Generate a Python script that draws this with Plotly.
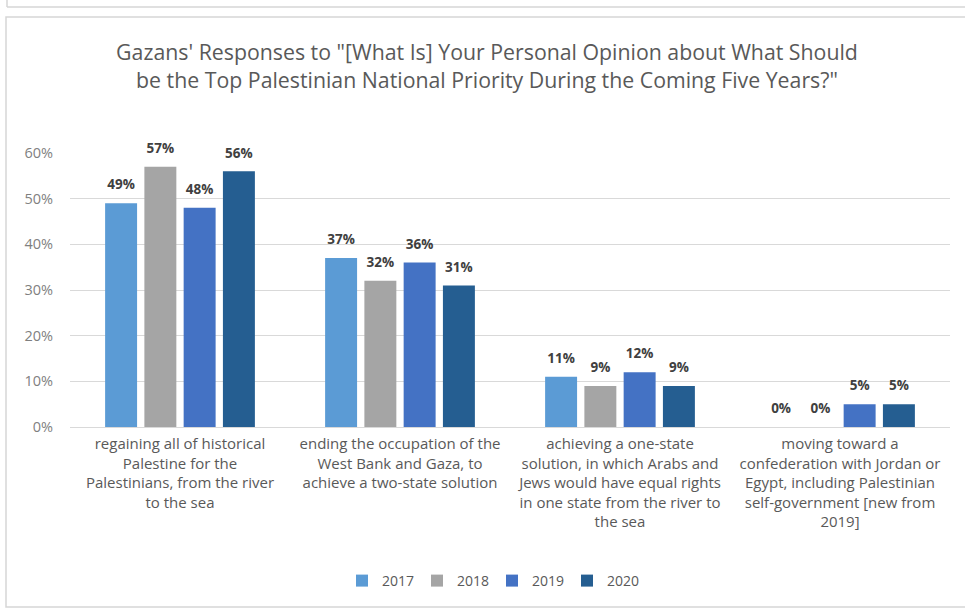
import plotly.graph_objects as go

categories = [
    "regaining all of historical<br>Palestine for the<br>Palestinians, from the river<br>to the sea",
    "ending the occupation of the<br>West Bank and Gaza, to<br>achieve a two-state solution",
    "achieving a one-state<br>solution, in which Arabs and<br>Jews would have equal rights<br>in one state from the river to<br>the sea",
    "moving toward a<br>confederation with Jordan or<br>Egypt, including Palestinian<br>self-government [new from<br>2019]",
]
series_names = ["2017", "2018", "2019", "2020"]
values_2017 = [49, 37, 11, 0]
values_2018 = [57, 32, 9, 0]
values_2019 = [48, 36, 12, 5]
values_2020 = [56, 31, 9, 5]
series_values = [values_2017, values_2018, values_2019, values_2020]
colors = ["#5B9BD5", "#A5A5A5", "#4472C4", "#255E91"]
y_ticks = [0, 10, 20, 30, 40, 50, 60]
y_tick_text = [f"{t}%" for t in y_ticks]

title_text = ("Gazans' Responses to \"[What Is] Your Personal Opinion about What Should<br>"
              "be the Top Palestinian National Priority During the Coming Five Years?\"")

FONT = "Open Sans"
BARGAP = 0.286

fig = go.Figure()
for name, vals, col in zip(series_names, series_values, colors):
    fig.add_trace(go.Bar(
        name=name, x=categories, y=vals,
        marker=dict(color=col, line=dict(width=0)),
        offsetgroup=name, hoverinfo="skip",
    ))
# data labels, grouped like the bars
for name, vals in zip(series_names, series_values):
    fig.add_trace(go.Scatter(
        x=categories, y=vals, mode="markers+text",
        text=[f"<b>{v}%</b>" for v in vals], textposition="top center",
        textfont=dict(family=FONT, size=13.5, color="#404040"),
        marker=dict(size=15, color="rgba(0,0,0,0)"),
        offsetgroup=name, showlegend=False, cliponaxis=False, hoverinfo="skip",
    ))

# paper coordinate helpers (plot area: x 70..950 px, y 153..427 px)
def px_x(p):
    return (p - 70) / 880.0

def px_y(p):
    return (427 - p) / 274.0

shapes = [
    dict(type="rect", xref="paper", yref="paper",
         x0=px_x(6), x1=px_x(980), y0=px_y(607), y1=px_y(17),
         line=dict(color="#D6D6D6", width=1.5), fillcolor="rgba(0,0,0,0)", layer="below"),
    dict(type="line", xref="paper", yref="paper",
         x0=px_x(7), x1=px_x(980), y0=px_y(7), y1=px_y(7),
         line=dict(color="#D6D6D6", width=1.5)),
    dict(type="line", xref="paper", yref="paper",
         x0=px_x(7), x1=px_x(7), y0=px_y(-5), y1=px_y(7),
         line=dict(color="#D6D6D6", width=1.5)),
]

fig.update_layout(
    width=965, height=610,
    margin=dict(l=70, r=15, t=153, b=183),
    paper_bgcolor="white", plot_bgcolor="white",
    font=dict(family=FONT, color="#595959"),
    barmode="group", bargap=BARGAP, bargroupgap=0.186,
    scattermode="group", scattergap=BARGAP,
    title=dict(text=title_text, xref="container", yref="container",
               x=487 / 965, y=1 - 60 / 610, xanchor="center", yanchor="middle",
               font=dict(family=FONT, size=21.3, color="#595959")),
    showlegend=True,
    legend=dict(orientation="h", xref="paper", yref="paper",
                x=px_x(492), y=px_y(581), xanchor="center", yanchor="middle",
                font=dict(family=FONT, size=14, color="#595959"),
                itemwidth=30, entrywidth=30, entrywidthmode="pixels",
                traceorder="normal"),
    shapes=shapes,
)
fig.update_xaxes(showgrid=False, showline=False, ticks="", zeroline=False,
                 tickfont=dict(family=FONT, size=15, color="#595959"),
                 tickangle=0, ticklabelstandoff=6)
fig.update_yaxes(range=[0, 60], tickvals=y_ticks, ticktext=y_tick_text,
                 showgrid=True, gridcolor="#D9D9D9", gridwidth=1,
                 zeroline=True, zerolinecolor="#D9D9D9", zerolinewidth=1,
                 showline=False, ticks="", ticklabelstandoff=16,
                 tickfont=dict(family=FONT, size=14.5, color="#7F7F7F"))

fig.write_html("out.html", config={"displayModeBar": False},
               post_script="document.body.style.margin='0';")
